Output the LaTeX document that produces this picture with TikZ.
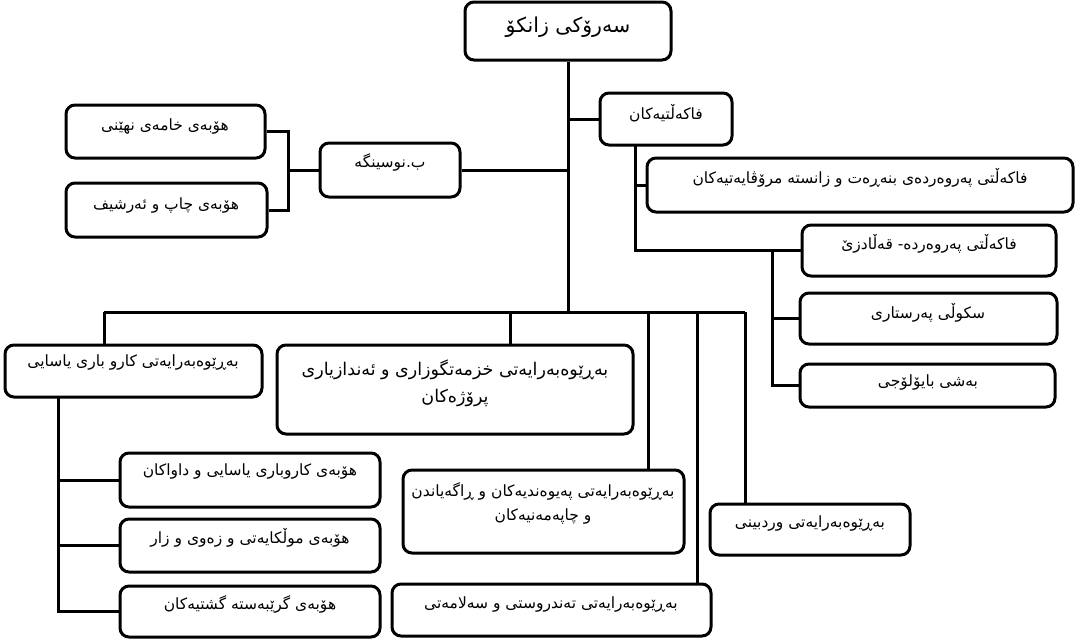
\documentclass[tikz,border=0pt]{standalone}
\usepackage{fontspec}
\newfontfamily\ar[Script=Arabic]{DejaVu Sans}
\TeXXeTstate=1
\newcommand\obox[5]{\node[obox, minimum width={(#4)-(#2)}, minimum height={(#5)-(#3)}] (#1) at ({((#2)+(#4))/2},{((#3)+(#5))/2}) {};}
\begin{document}
\begin{tikzpicture}[x=1pt,y=-1pt,
  obox/.style={draw=black, line width=3pt, rounded corners=9pt, inner sep=0pt, fill=white},
  txt/.style={inner sep=0pt, align=center, font={\ar\fontsize{15.5}{24}\selectfont}},
  bigtxt/.style={txt, font={\ar\fontsize{20.5}{26}\selectfont}},
  midtxt/.style={txt, font={\ar\fontsize{17.5}{27}\selectfont}},
  conn/.style={draw=black, line width=3pt}]
\useasboundingbox (0,0) rectangle (1083,643);
\fill[white] (0,0) rectangle (1083,643);
% coordinates for connector junctions
\coordinate (bus) at (568,312);
\coordinate (busL) at (104,312);
\coordinate (busR) at (745,312);
\coordinate (br) at (288,170);
\coordinate (f0) at (635,145);
\coordinate (f1) at (772,250);
\coordinate (lv) at (58,397);
% boxes
\obox{top}{465}{2}{671}{60}
\obox{fac}{600}{93}{732}{145}
\obox{nus}{320}{143}{460}{197}
\obox{kh}{66}{105}{265}{158}
\obox{chap}{66}{183}{267}{237}
\obox{bnr}{647}{158}{1073}{212}
\obox{qal}{802}{225}{1056}{276}
\obox{sk}{800}{293}{1057}{344}
\obox{bio}{800}{364}{1055}{407}
\obox{yas}{5}{345}{262}{397}
\obox{khz}{277}{345}{633}{434}
\obox{h1}{120}{453}{380}{507}
\obox{h2}{120}{519}{380}{572}
\obox{h3}{120}{586}{380}{637}
\obox{pey}{403}{470}{684}{553}
\obox{war}{710}{504}{910}{555}
\obox{ten}{392}{584}{711}{636}
% connectors
\draw[conn] (top.south) -- (bus);
\draw[conn] (busL) -- (busR);
\draw[conn] (fac.west -| top.south) -- (fac.west);
\draw[conn] (nus.east -| top.south) -- (nus.east);
\draw[conn] (kh.east) -| (br) |- (chap.east);
\draw[conn] (br) -- (nus.west);
\draw[conn] (f0) |- (bnr.west);
\draw[conn] (f0) |- (qal.west);
\draw[conn] (f1) |- (bio.west);
\draw[conn] (sk.west -| f1) -- (sk.west);
\draw[conn] (busL) -- (busL |- yas.north);
\draw[conn] (510,312) -- (510,345) coordinate (dk);
\draw[conn] (648,312) -- (648,470) coordinate (dp);
\draw[conn] (697,312) -- (697,584) coordinate (dt);
\draw[conn] (busR) -- (busR |- war.north);
\draw[conn] (lv) |- (h3.west);
\draw[conn] (h1.west -| lv) -- (h1.west);
\draw[conn] (h2.west -| lv) -- (h2.west);
% texts
\node[bigtxt] (ttop) at (568,27) {\beginR سەرۆکی زانکۆ\endR};
\node[txt] (tfac) at (666,113) {\beginR فاکەڵتیەکان\endR};
\node[txt] (tnus) at (390,162) {\beginR ب.نوسینگە\endR};
\node[txt] (tkh) at (165,127) {\beginR هۆبەی خامەی نهێنی\endR};
\node[txt] (tchap) at (166,205) {\beginR هۆبەی چاپ و ئەرشیف\endR};
\node[txt] (tbnr) at (860,178) {\beginR فاکەڵتی پەروەردەی بنەڕەت و زانستە مرۆڤایەتیەکان\endR};
\node[txt] (tqal) at (929,244) {\beginR فاکەڵتی پەروەردە- قەڵادزێ\endR};
\node[txt] (tsk) at (928,313) {\beginR سکوڵی پەرستاری\endR};
\node[txt] (tbio) at (928,382) {\beginR بەشی بایۆلۆجی\endR};
\node[txt] (tyas) at (133,362) {\beginR بەڕێوەبەرایەتی کارو باری یاسایی\endR};
\node[midtxt] (tkhz) at (455,383) {\beginR بەڕێوەبەرایەتی خزمەتگوزاری و ئەندازیاری\endR\\\beginR پرۆژەکان\endR};
\node[txt] (th1) at (250,471) {\beginR هۆبەی کاروباری یاسایی و داواکان\endR};
\node[txt] (th2) at (250,538) {\beginR هۆبەی موڵکایەتی و زەوی و زار\endR};
\node[txt] (th3) at (250,604) {\beginR هۆبەی گرێبەستە گشتیەکان\endR};
\node[txt] (tpey) at (543,503) {\beginR بەڕێوەبەرایەتی پەیوەندیەکان و ڕاگەیاندن\endR\\\beginR و چاپەمەنیەکان\endR};
\node[txt] (twar) at (810,523) {\beginR بەڕێوەبەرایەتی وردبینی\endR};
\node[txt] (tten) at (551,604) {\beginR بەڕێوەبەرایەتی تەندروستی و سەلامەتی\endR};
\end{tikzpicture}
\end{document}
